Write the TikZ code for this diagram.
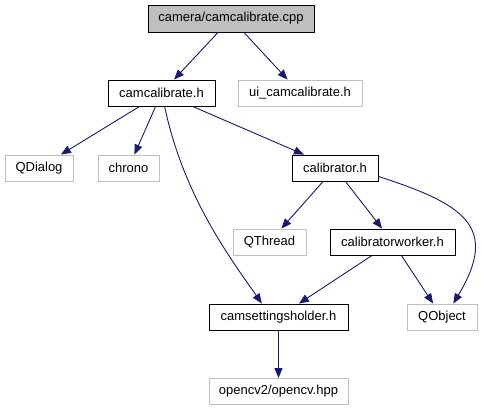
\documentclass[tikz,border=0pt]{standalone}
\usepackage{fontspec}
\setmainfont{Liberation Sans}
\usetikzlibrary{arrows.meta}
\definecolor{edgeblue}{RGB}{25,25,112}
\definecolor{boxgray}{RGB}{191,191,191}

\begin{document}
\begin{tikzpicture}[x=1pt, y=1pt, >={Triangle[length=10pt,width=8pt]},
    file/.style={draw=black, line width=0.9pt, minimum height=26pt, inner sep=0pt,
                 font=\fontsize{13}{15}\selectfont},
    ext/.style={file, draw=boxgray},
    dep/.style={->, edgeblue, line width=0.9pt}]
    \useasboundingbox (0,0) rectangle (483,-411);

    % 1. Các tệp (nút)
    \node[file, fill=boxgray, minimum width=166pt, minimum height=27pt] (cpp) at (231,-18.5) {camera/camcalibrate.cpp};
    \node[file, minimum width=107pt] (camh) at (161.5,-93) {camcalibrate.h};
    \node[ext, minimum width=124pt] (ui) at (300,-93) {ui\_camcalibrate.h};
    \node[ext, minimum width=68pt] (qdialog) at (39,-168) {QDialog};
    \node[ext, minimum width=61pt] (chrono) at (128.5,-168) {chrono};
    \node[file, minimum width=86pt] (calib) at (335,-168) {calibrator.h};
    \node[ext, minimum width=73pt] (qthread) at (269.5,-242) {QThread};
    \node[file, minimum width=125pt] (worker) at (392.5,-242) {calibratorworker.h};
    \node[file, minimum width=139pt] (camset) at (278.5,-317) {camsettingsholder.h};
    \node[ext, minimum width=70pt] (qobj) at (442,-317) {QObject};
    \node[ext, minimum width=139pt] (opencv) at (278.5,-391.5) {opencv2/opencv.hpp};

    % 2. Các phụ thuộc (mũi tên)
    \draw[dep] (cpp) -- (camh);
    \draw[dep] (cpp) -- (ui);
    \draw[dep] (camh) -- (qdialog);
    \draw[dep] (camh) -- (chrono);
    \draw[dep] (camh) -- (calib);
    \draw[dep] (camh.-77) .. controls +(-78:90) and +(125:60) .. (camset.141);
    \draw[dep] (calib) -- (qthread);
    \draw[dep] (calib) -- (worker);
    \draw[dep] (calib.-11) .. controls +(-18:90) and +(59:90) .. (qobj.50);
    \draw[dep] (worker) -- (camset);
    \draw[dep] (worker) -- (qobj);
    \draw[dep] (camset) -- (opencv);
\end{tikzpicture}
\end{document}
